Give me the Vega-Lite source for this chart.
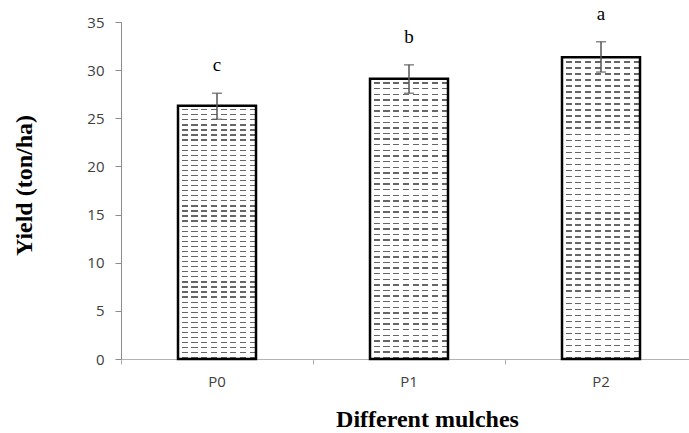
{
  "$schema": "https://vega.github.io/schema/vega-lite/v6.json",
  "autosize": "none",
  "width": 568,
  "height": 337,
  "padding": {"left": 121, "top": 22, "right": 0, "bottom": 74},
  "background": "white",
  "config": {"view": {"stroke": null}, "axis": {"grid": false}},
  "data": {"values": [
    {"treatment": "P0", "yield": 26.3, "lo": 24.9, "hi": 27.6, "letter": "c"},
    {"treatment": "P1", "yield": 29.1, "lo": 27.6, "hi": 30.55, "letter": "b"},
    {"treatment": "P2", "yield": 31.35, "lo": 29.8, "hi": 32.95, "letter": "a"}
  ]},
  "resolve": {"axis": {"x": "independent", "y": "independent"}},
  "layer": [
    {
      "mark": {"type": "bar", "width": 78, "stroke": null, "fill": {"gradient": "linear", "x1": 0, "y1": 0, "x2": 0, "y2": 1, "stops": [
        {"offset": 0, "color": "#fff"},
        {"offset": 0.013, "color": "#fff"},{"offset": 0.013, "color": "#666"},{"offset": 0.018, "color": "#666"},{"offset": 0.018, "color": "#fff"},
        {"offset": 0.033, "color": "#fff"},{"offset": 0.033, "color": "#666"},{"offset": 0.038, "color": "#666"},{"offset": 0.038, "color": "#fff"},
        {"offset": 0.053, "color": "#fff"},{"offset": 0.053, "color": "#666"},{"offset": 0.058, "color": "#666"},{"offset": 0.058, "color": "#fff"},
        {"offset": 0.073, "color": "#fff"},{"offset": 0.073, "color": "#666"},{"offset": 0.078, "color": "#666"},{"offset": 0.078, "color": "#fff"},
        {"offset": 0.093, "color": "#fff"},{"offset": 0.093, "color": "#666"},{"offset": 0.098, "color": "#666"},{"offset": 0.098, "color": "#fff"},
        {"offset": 0.113, "color": "#fff"},{"offset": 0.113, "color": "#666"},{"offset": 0.118, "color": "#666"},{"offset": 0.118, "color": "#fff"},
        {"offset": 0.133, "color": "#fff"},{"offset": 0.133, "color": "#666"},{"offset": 0.138, "color": "#666"},{"offset": 0.138, "color": "#fff"},
        {"offset": 0.153, "color": "#fff"},{"offset": 0.153, "color": "#666"},{"offset": 0.158, "color": "#666"},{"offset": 0.158, "color": "#fff"},
        {"offset": 0.173, "color": "#fff"},{"offset": 0.173, "color": "#666"},{"offset": 0.178, "color": "#666"},{"offset": 0.178, "color": "#fff"},
        {"offset": 0.193, "color": "#fff"},{"offset": 0.193, "color": "#666"},{"offset": 0.198, "color": "#666"},{"offset": 0.198, "color": "#fff"},
        {"offset": 0.213, "color": "#fff"},{"offset": 0.213, "color": "#666"},{"offset": 0.218, "color": "#666"},{"offset": 0.218, "color": "#fff"},
        {"offset": 0.233, "color": "#fff"},{"offset": 0.233, "color": "#666"},{"offset": 0.238, "color": "#666"},{"offset": 0.238, "color": "#fff"},
        {"offset": 0.253, "color": "#fff"},{"offset": 0.253, "color": "#666"},{"offset": 0.258, "color": "#666"},{"offset": 0.258, "color": "#fff"},
        {"offset": 0.273, "color": "#fff"},{"offset": 0.273, "color": "#666"},{"offset": 0.278, "color": "#666"},{"offset": 0.278, "color": "#fff"},
        {"offset": 0.293, "color": "#fff"},{"offset": 0.293, "color": "#666"},{"offset": 0.298, "color": "#666"},{"offset": 0.298, "color": "#fff"},
        {"offset": 0.313, "color": "#fff"},{"offset": 0.313, "color": "#666"},{"offset": 0.318, "color": "#666"},{"offset": 0.318, "color": "#fff"},
        {"offset": 0.333, "color": "#fff"},{"offset": 0.333, "color": "#666"},{"offset": 0.338, "color": "#666"},{"offset": 0.338, "color": "#fff"},
        {"offset": 0.353, "color": "#fff"},{"offset": 0.353, "color": "#666"},{"offset": 0.358, "color": "#666"},{"offset": 0.358, "color": "#fff"},
        {"offset": 0.373, "color": "#fff"},{"offset": 0.373, "color": "#666"},{"offset": 0.378, "color": "#666"},{"offset": 0.378, "color": "#fff"},
        {"offset": 0.393, "color": "#fff"},{"offset": 0.393, "color": "#666"},{"offset": 0.398, "color": "#666"},{"offset": 0.398, "color": "#fff"},
        {"offset": 0.413, "color": "#fff"},{"offset": 0.413, "color": "#666"},{"offset": 0.418, "color": "#666"},{"offset": 0.418, "color": "#fff"},
        {"offset": 0.433, "color": "#fff"},{"offset": 0.433, "color": "#666"},{"offset": 0.438, "color": "#666"},{"offset": 0.438, "color": "#fff"},
        {"offset": 0.453, "color": "#fff"},{"offset": 0.453, "color": "#666"},{"offset": 0.458, "color": "#666"},{"offset": 0.458, "color": "#fff"},
        {"offset": 0.473, "color": "#fff"},{"offset": 0.473, "color": "#666"},{"offset": 0.478, "color": "#666"},{"offset": 0.478, "color": "#fff"},
        {"offset": 0.493, "color": "#fff"},{"offset": 0.493, "color": "#666"},{"offset": 0.498, "color": "#666"},{"offset": 0.498, "color": "#fff"},
        {"offset": 0.513, "color": "#fff"},{"offset": 0.513, "color": "#666"},{"offset": 0.518, "color": "#666"},{"offset": 0.518, "color": "#fff"},
        {"offset": 0.533, "color": "#fff"},{"offset": 0.533, "color": "#666"},{"offset": 0.538, "color": "#666"},{"offset": 0.538, "color": "#fff"},
        {"offset": 0.553, "color": "#fff"},{"offset": 0.553, "color": "#666"},{"offset": 0.558, "color": "#666"},{"offset": 0.558, "color": "#fff"},
        {"offset": 0.573, "color": "#fff"},{"offset": 0.573, "color": "#666"},{"offset": 0.578, "color": "#666"},{"offset": 0.578, "color": "#fff"},
        {"offset": 0.593, "color": "#fff"},{"offset": 0.593, "color": "#666"},{"offset": 0.598, "color": "#666"},{"offset": 0.598, "color": "#fff"},
        {"offset": 0.613, "color": "#fff"},{"offset": 0.613, "color": "#666"},{"offset": 0.618, "color": "#666"},{"offset": 0.618, "color": "#fff"},
        {"offset": 0.633, "color": "#fff"},{"offset": 0.633, "color": "#666"},{"offset": 0.638, "color": "#666"},{"offset": 0.638, "color": "#fff"},
        {"offset": 0.653, "color": "#fff"},{"offset": 0.653, "color": "#666"},{"offset": 0.658, "color": "#666"},{"offset": 0.658, "color": "#fff"},
        {"offset": 0.673, "color": "#fff"},{"offset": 0.673, "color": "#666"},{"offset": 0.678, "color": "#666"},{"offset": 0.678, "color": "#fff"},
        {"offset": 0.693, "color": "#fff"},{"offset": 0.693, "color": "#666"},{"offset": 0.698, "color": "#666"},{"offset": 0.698, "color": "#fff"},
        {"offset": 0.713, "color": "#fff"},{"offset": 0.713, "color": "#666"},{"offset": 0.718, "color": "#666"},{"offset": 0.718, "color": "#fff"},
        {"offset": 0.733, "color": "#fff"},{"offset": 0.733, "color": "#666"},{"offset": 0.738, "color": "#666"},{"offset": 0.738, "color": "#fff"},
        {"offset": 0.753, "color": "#fff"},{"offset": 0.753, "color": "#666"},{"offset": 0.758, "color": "#666"},{"offset": 0.758, "color": "#fff"},
        {"offset": 0.773, "color": "#fff"},{"offset": 0.773, "color": "#666"},{"offset": 0.778, "color": "#666"},{"offset": 0.778, "color": "#fff"},
        {"offset": 0.793, "color": "#fff"},{"offset": 0.793, "color": "#666"},{"offset": 0.798, "color": "#666"},{"offset": 0.798, "color": "#fff"},
        {"offset": 0.813, "color": "#fff"},{"offset": 0.813, "color": "#666"},{"offset": 0.818, "color": "#666"},{"offset": 0.818, "color": "#fff"},
        {"offset": 0.833, "color": "#fff"},{"offset": 0.833, "color": "#666"},{"offset": 0.838, "color": "#666"},{"offset": 0.838, "color": "#fff"},
        {"offset": 0.853, "color": "#fff"},{"offset": 0.853, "color": "#666"},{"offset": 0.858, "color": "#666"},{"offset": 0.858, "color": "#fff"},
        {"offset": 0.873, "color": "#fff"},{"offset": 0.873, "color": "#666"},{"offset": 0.878, "color": "#666"},{"offset": 0.878, "color": "#fff"},
        {"offset": 0.893, "color": "#fff"},{"offset": 0.893, "color": "#666"},{"offset": 0.898, "color": "#666"},{"offset": 0.898, "color": "#fff"},
        {"offset": 0.913, "color": "#fff"},{"offset": 0.913, "color": "#666"},{"offset": 0.918, "color": "#666"},{"offset": 0.918, "color": "#fff"},
        {"offset": 0.933, "color": "#fff"},{"offset": 0.933, "color": "#666"},{"offset": 0.938, "color": "#666"},{"offset": 0.938, "color": "#fff"},
        {"offset": 0.953, "color": "#fff"},{"offset": 0.953, "color": "#666"},{"offset": 0.958, "color": "#666"},{"offset": 0.958, "color": "#fff"},
        {"offset": 0.973, "color": "#fff"},{"offset": 0.973, "color": "#666"},{"offset": 0.978, "color": "#666"},{"offset": 0.978, "color": "#fff"},
        {"offset": 0.993, "color": "#fff"},{"offset": 0.993, "color": "#666"},{"offset": 0.998, "color": "#666"},{"offset": 0.998, "color": "#fff"},
        {"offset": 1, "color": "#fff"}
      ]}},
      "encoding": {
        "x": {"field": "treatment", "type": "nominal", "sort": null,
          "scale": {"range": [0, 576], "paddingInner": 0, "paddingOuter": 0},
          "axis": {"orient": "bottom", "title": "Different mulches", "labelAngle": 0, "ticks": false,
            "labelFont": "Open Sans", "labelFontSize": 15, "labelColor": "#404040", "labelPadding": 15,
            "domainColor": "#b3b3b3", "domainWidth": 1.2,
            "titleFont": "Liberation Serif", "titleFontSize": 24, "titleFontWeight": "bold", "titleColor": "#000",
            "titleX": 306, "titleY": 67, "titleBaseline": "alphabetic", "titleAlign": "center"}},
        "y": {"field": "yield", "type": "quantitative",
          "scale": {"domain": [0, 35], "nice": false, "zero": true},
          "axis": {"orient": "left", "title": "Yield (ton/ha)", "values": [0, 5, 10, 15, 20, 25, 30, 35],
            "domainColor": "#8c8c8c", "domainWidth": 1, "tickColor": "#8c8c8c", "tickSize": 6, "labelPadding": 11,
            "labelFont": "Open Sans", "labelFontSize": 15, "labelColor": "#404040",
            "titleFont": "Liberation Serif", "titleFontSize": 24, "titleFontWeight": "bold", "titleColor": "#000",
            "titleX": -90, "titleY": 163, "titleAngle": -90, "titleBaseline": "alphabetic", "titleAlign": "center"}}
      }
    },
    {
      "mark": {"type": "bar", "width": 78, "stroke": "#000", "strokeWidth": 2.5, "fill": {"gradient": "linear", "x1": 0, "y1": 0, "x2": 1, "y2": 0, "stops": [
        {"offset": 0, "color": "#fff"},{"offset": 0.045, "color": "#fff"},{"offset": 0.045, "color": "rgba(255,255,255,0)"},{"offset": 0.125, "color": "rgba(255,255,255,0)"},
        {"offset": 0.125, "color": "#fff"},{"offset": 0.17, "color": "#fff"},{"offset": 0.17, "color": "rgba(255,255,255,0)"},{"offset": 0.25, "color": "rgba(255,255,255,0)"},
        {"offset": 0.25, "color": "#fff"},{"offset": 0.295, "color": "#fff"},{"offset": 0.295, "color": "rgba(255,255,255,0)"},{"offset": 0.375, "color": "rgba(255,255,255,0)"},
        {"offset": 0.375, "color": "#fff"},{"offset": 0.42, "color": "#fff"},{"offset": 0.42, "color": "rgba(255,255,255,0)"},{"offset": 0.5, "color": "rgba(255,255,255,0)"},
        {"offset": 0.5, "color": "#fff"},{"offset": 0.545, "color": "#fff"},{"offset": 0.545, "color": "rgba(255,255,255,0)"},{"offset": 0.625, "color": "rgba(255,255,255,0)"},
        {"offset": 0.625, "color": "#fff"},{"offset": 0.67, "color": "#fff"},{"offset": 0.67, "color": "rgba(255,255,255,0)"},{"offset": 0.75, "color": "rgba(255,255,255,0)"},
        {"offset": 0.75, "color": "#fff"},{"offset": 0.795, "color": "#fff"},{"offset": 0.795, "color": "rgba(255,255,255,0)"},{"offset": 0.875, "color": "rgba(255,255,255,0)"},
        {"offset": 0.875, "color": "#fff"},{"offset": 0.92, "color": "#fff"},{"offset": 0.92, "color": "rgba(255,255,255,0)"},{"offset": 1, "color": "rgba(255,255,255,0)"}
      ]}},
      "encoding": {
        "x": {"field": "treatment", "type": "nominal", "sort": null,
          "axis": {"orient": "bottom", "bandPosition": 0, "labels": false, "domain": false, "ticks": true, "tickSize": 5, "tickColor": "#aaaaaa", "title": null}},
        "y": {"field": "yield", "type": "quantitative", "axis": null}
      }
    },
    {
      "mark": {"type": "rule", "color": "#555", "strokeWidth": 1.5},
      "encoding": {
        "x": {"field": "treatment", "type": "nominal", "sort": null, "axis": null},
        "y": {"field": "lo", "type": "quantitative", "axis": null},
        "y2": {"field": "hi"}
      }
    },
    {
      "mark": {"type": "tick", "color": "#555", "size": 10, "thickness": 1.5},
      "encoding": {
        "x": {"field": "treatment", "type": "nominal", "sort": null, "axis": null},
        "y": {"field": "hi", "type": "quantitative", "axis": null}
      }
    },
    {
      "mark": {"type": "tick", "color": "#555", "size": 10, "thickness": 1.5},
      "encoding": {
        "x": {"field": "treatment", "type": "nominal", "sort": null, "axis": null},
        "y": {"field": "lo", "type": "quantitative", "axis": null}
      }
    },
    {
      "mark": {"type": "text", "font": "Liberation Serif", "fontSize": 19, "color": "#000", "dy": -22, "baseline": "alphabetic"},
      "encoding": {
        "x": {"field": "treatment", "type": "nominal", "sort": null, "axis": null},
        "y": {"field": "hi", "type": "quantitative", "axis": null},
        "text": {"field": "letter"}
      }
    }
  ]
}
